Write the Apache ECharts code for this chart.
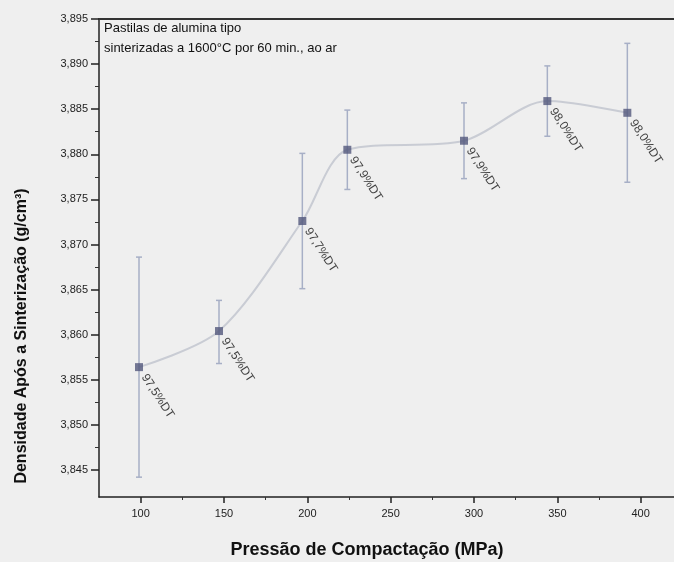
<!DOCTYPE html>
<html>
<head>
<meta charset="utf-8">
<script src="https://cdn.jsdelivr.net/npm/echarts@6/dist/echarts.min.js"></script>
<style>
  html, body { margin: 0; padding: 0; background: #efefef; }
  #chart { width: 674px; height: 562px; }
</style>
</head>
<body>
<div id="chart"></div>
<script>
// Compaction pressure (MPa) and sintered density (g/cm3)
const pressure = [99, 147, 197, 224, 294, 344, 392];
const density  = [3.8564, 3.8604, 3.8726, 3.8805, 3.8815, 3.8859, 3.8846];
// Error bar bounds
const densLow  = [3.8442, 3.8568, 3.8651, 3.8761, 3.8773, 3.8820, 3.8769];
const densHigh = [3.8686, 3.8638, 3.8801, 3.8849, 3.8857, 3.8898, 3.8923];
// Relative density labels
const pointLabels = ['97,5%DT', '97,5%DT', '97,7%DT', '97,9%DT', '97,9%DT', '98,0%DT', '98,0%DT'];
// Axis tick values
const yMajor = [3.845, 3.850, 3.855, 3.860, 3.865, 3.870, 3.875, 3.880, 3.885, 3.890, 3.895];
const yMinor = [3.8475, 3.8525, 3.8575, 3.8625, 3.8675, 3.8725, 3.8775, 3.8825, 3.8875, 3.8925];
const xMajor = [100, 150, 200, 250, 300, 350, 400];
const xMinor = [125, 175, 225, 275, 325, 375];

const FONT = 'Liberation Sans, Arial, sans-serif';
const chart = echarts.init(document.getElementById('chart'));

const Y_MIN = 3.842, Y_MAX = 3.895, X_MIN = 75, X_MAX = 420;

const fmtComma = v => v.toFixed(3).replace('.', ',');

const option = {
  backgroundColor: '#efefef',
  animation: false,
  grid: { left: 99, right: 0, top: 19, bottom: 65, outerBoundsMode: 'none', containLabel: false },
  xAxis: [
    {
      type: 'value', min: X_MIN, max: X_MAX, position: 'bottom',
      axisLine: { show: true, lineStyle: { color: '#222', width: 1.5 } },
      axisTick: { show: true, inside: false, length: 6, customValues: xMajor, lineStyle: { color: '#222', width: 1.5 } },
      axisLabel: { show: true, customValues: xMajor, fontFamily: FONT, fontSize: 11, color: '#222', margin: 11 },
      splitLine: { show: false }
    },
    {
      type: 'value', min: X_MIN, max: X_MAX, position: 'bottom',
      axisLine: { show: false },
      axisTick: { show: true, length: 3, customValues: xMinor, lineStyle: { color: '#333', width: 1 } },
      axisLabel: { show: false },
      splitLine: { show: false }
    },
    {
      type: 'value', min: X_MIN, max: X_MAX, position: 'top',
      axisLine: { show: true, lineStyle: { color: '#333', width: 1.8 } },
      axisTick: { show: false }, axisLabel: { show: false }, splitLine: { show: false }
    }
  ],
  yAxis: [
    {
      type: 'value', min: Y_MIN, max: Y_MAX, position: 'left',
      axisLine: { show: true, lineStyle: { color: '#222', width: 1.5 } },
      axisTick: { show: true, length: 8, customValues: yMajor, lineStyle: { color: '#222', width: 1.5 } },
      axisLabel: { show: true, customValues: yMajor, formatter: fmtComma, fontFamily: FONT, fontSize: 11, color: '#222', margin: 11 },
      splitLine: { show: false }
    },
    {
      type: 'value', min: Y_MIN, max: Y_MAX, position: 'left',
      axisLine: { show: false },
      axisTick: { show: true, length: 4, customValues: yMinor, lineStyle: { color: '#333', width: 1 } },
      axisLabel: { show: false },
      splitLine: { show: false }
    }
  ],
  graphic: [
    {
      type: 'text', x: 22, y: 336, rotation: Math.PI / 2,
      style: {
        text: 'Densidade Após a Sinterização (g/cm³)',
        font: 'bold 16px ' + FONT, fill: '#111',
        textAlign: 'center', textVerticalAlign: 'middle'
      }
    },
    {
      type: 'text', x: 367, y: 550,
      style: {
        text: 'Pressão de Compactação (MPa)',
        font: 'bold 18px ' + FONT, fill: '#111',
        textAlign: 'center', textVerticalAlign: 'middle'
      }
    },
    {
      type: 'text', left: 104, top: 22,
      style: { text: 'Pastilas de alumina tipo', font: '13px ' + FONT, fill: '#111' }
    },
    {
      type: 'text', left: 104, top: 42,
      style: { text: 'sinterizadas a 1600°C por 60 min., ao ar', font: '13px ' + FONT, fill: '#111' }
    }
  ],
  series: [
    {
      type: 'line',
      data: pressure.map((p, i) => [p, density[i]]),
      smooth: 0.3,
      lineStyle: { color: '#c9ccd4', width: 2 },
      symbol: 'none',
      z: 1
    },
    {
      type: 'custom',
      data: pressure.map((p, i) => [p, densLow[i], densHigh[i]]),
      renderItem: (params, api) => {
        const lo = api.coord([api.value(0), api.value(1)]);
        const hi = api.coord([api.value(0), api.value(2)]);
        const cap = 3;
        const st = { stroke: '#a7afc6', lineWidth: 1.5 };
        return {
          type: 'group',
          children: [
            { type: 'line', shape: { x1: lo[0], y1: lo[1], x2: hi[0], y2: hi[1] }, style: st },
            { type: 'line', shape: { x1: lo[0] - cap, y1: lo[1], x2: lo[0] + cap, y2: lo[1] }, style: st },
            { type: 'line', shape: { x1: hi[0] - cap, y1: hi[1], x2: hi[0] + cap, y2: hi[1] }, style: st }
          ]
        };
      },
      z: 2
    },
    {
      type: 'scatter',
      data: pressure.map((p, i) => [p, density[i]]),
      symbol: 'rect', symbolSize: 8,
      itemStyle: { color: '#52587c' },
      label: {
        show: true,
        formatter: p => pointLabels[p.dataIndex],
        position: [9, 12],
        align: 'left', verticalAlign: 'middle',
        rotate: -57,
        fontFamily: FONT, fontSize: 12, color: '#111'
      },
      z: 3
    }
  ]
};

chart.setOption(option);
</script>
</body>
</html>
